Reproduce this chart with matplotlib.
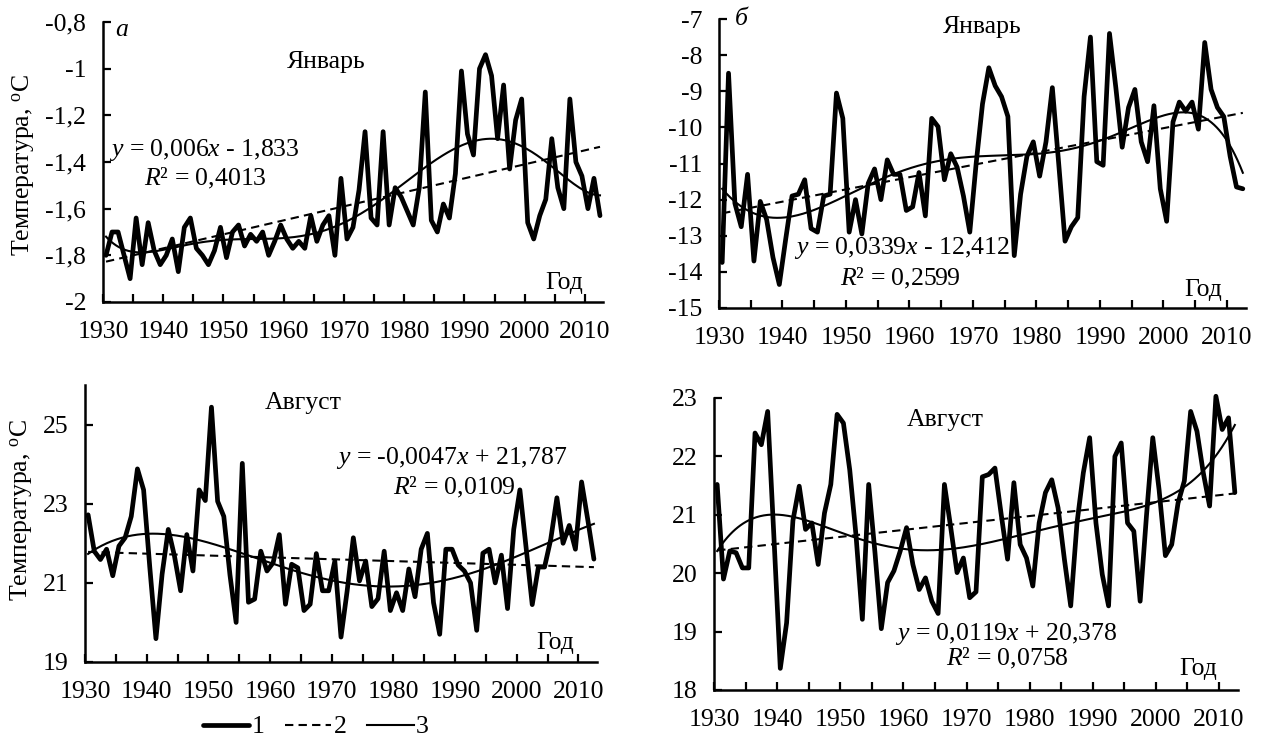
import numpy as np
import matplotlib
matplotlib.use('Agg')
import matplotlib.pyplot as plt

plt.rcParams['font.family'] = ['Liberation Serif', 'DejaVu Serif']
plt.rcParams['mathtext.fontset'] = 'custom'
plt.rcParams['mathtext.rm'] = 'Liberation Serif'
plt.rcParams['mathtext.it'] = 'Liberation Serif:italic'

W, H = 1271, 737
FS = 18.5

years = np.arange(1930, 2013)

# Январь, станция а
jan_a = [-1.80, -1.70, -1.70, -1.80, -1.90, -1.64, -1.84, -1.66, -1.78, -1.84,
         -1.80, -1.73, -1.87, -1.68, -1.64, -1.77, -1.80, -1.84, -1.78, -1.68,
         -1.81, -1.70, -1.67, -1.76, -1.71, -1.74, -1.70, -1.80, -1.74, -1.67,
         -1.73, -1.77, -1.74, -1.77, -1.63, -1.74, -1.67, -1.63, -1.80, -1.47,
         -1.73, -1.68, -1.52, -1.27, -1.64, -1.67, -1.27, -1.67, -1.51, -1.55,
         -1.61, -1.67, -1.51, -1.10, -1.65, -1.70, -1.58, -1.64, -1.45, -1.01,
         -1.28, -1.37, -1.00, -0.94, -1.03, -1.30, -1.07, -1.43, -1.22, -1.13,
         -1.66, -1.73, -1.63, -1.56, -1.30, -1.51, -1.60, -1.13, -1.40, -1.46,
         -1.60, -1.47, -1.63]

# Январь, станция б
jan_b = [-13.74, -8.50, -12.10, -12.75, -11.30, -13.70, -12.05, -12.55, -13.60, -14.35,
         -13.10, -11.90, -11.85, -11.45, -12.80, -12.90, -11.90, -11.85, -9.05, -9.75,
         -12.90, -12.00, -12.95, -11.55, -11.15, -12.00, -10.90, -11.30, -11.30, -12.30,
         -12.20, -11.25, -12.45, -9.75, -9.98, -11.45, -10.73, -11.10, -11.90, -12.90,
         -11.00, -9.35, -8.35, -8.85, -9.15, -9.70, -13.55, -11.85, -10.80, -10.40,
         -11.35, -10.40, -8.90, -11.00, -13.15, -12.75, -12.50, -9.15, -7.50, -10.95,
         -11.05, -7.40, -8.90, -10.55, -9.45, -8.95, -10.40, -10.95, -9.40, -11.70,
         -12.60, -9.85, -9.30, -9.55, -9.30, -10.05, -7.65, -8.95, -9.45, -9.70,
         -10.80, -11.65, -11.70]

# Август, станция а
aug_a = [22.72, 21.80, 21.59, 21.85, 21.18, 21.93, 22.14, 22.68, 23.88, 23.35,
         21.40, 19.59, 21.22, 22.35, 21.68, 20.80, 22.22, 21.30, 23.35, 23.08,
         25.44, 23.06, 22.68, 21.20, 20.00, 24.02, 20.51, 20.59, 21.80, 21.30,
         21.51, 22.22, 20.46, 21.47, 21.38, 20.30, 20.46, 21.74, 20.80, 20.80,
         21.55, 19.63, 20.80, 22.14, 21.05, 21.55, 20.40, 20.60, 21.80, 20.30,
         20.75, 20.30, 21.35, 20.65, 21.85, 22.25, 20.50, 19.70, 21.85, 21.85,
         21.45, 21.30, 21.00, 19.80, 21.75, 21.85, 21.00, 21.70, 20.35, 22.35,
         23.35, 21.90, 20.45, 21.40, 21.40, 22.10, 23.15, 22.00, 22.45, 21.85,
         23.55, 22.60, 21.60]

# Август, станция б
aug_b = [21.52, 19.90, 20.38, 20.35, 20.09, 20.09, 22.40, 22.20, 22.77, 20.60,
         18.37, 19.15, 20.90, 21.49, 20.75, 20.86, 20.15, 21.03, 21.52, 22.72,
         22.57, 21.77, 20.64, 19.21, 21.52, 20.35, 19.05, 19.84, 20.04, 20.38,
         20.78, 20.15, 19.72, 19.92, 19.52, 19.31, 21.52, 20.78, 20.01, 20.26,
         19.58, 19.68, 21.65, 21.69, 21.80, 21.00, 20.24, 21.55, 20.49, 20.26,
         19.78, 20.86, 21.38, 21.60, 21.12, 20.24, 19.44, 20.86, 21.72, 22.32,
         20.86, 19.98, 19.44, 22.00, 22.23, 20.86, 20.72, 19.52, 20.98, 22.32,
         21.43, 20.30, 20.49, 21.20, 21.58, 22.77, 22.43, 21.72, 21.15, 23.03,
         22.46, 22.66, 21.38]

# коэффициенты линейных трендов (как подписаны на графиках)
trend_jan_a = (0.006, -1.833)
trend_jan_b = (0.0339, -12.412)
trend_aug_a = (-0.0047, 21.787)
trend_aug_b = (0.0119, 20.378)


def px_rect(l, t, r, b):
    return [l / W, 1 - b / H, (r - l) / W, (b - t) / H]


def fmt(v):
    s = ('%.1f' % v).rstrip('0').rstrip('.')
    return s.replace('.', ',')


def draw_panel(ax, data, trend, ylim, yticks, deg=6):
    n = len(data)
    pos = np.arange(n) + 0.5
    idx = np.arange(1, n + 1)
    y = np.array(data)

    l1, = ax.plot(pos, y, color='black', lw=3.4, solid_joinstyle='round',
                  solid_capstyle='round', clip_on=False, zorder=3)
    # линейный тренд
    l2, = ax.plot(pos, trend[0] * idx + trend[1], color='black', lw=1.5,
                  dashes=(4, 2.5), zorder=4)
    # полиномиальный тренд
    p = np.polynomial.Polynomial.fit(idx, y, deg)
    xi = np.linspace(1, n, 400)
    l3, = ax.plot(xi - 0.5, p(xi), color='black', lw=1.5, zorder=4)

    ax.set_xlim(0, n)
    ax.set_ylim(*ylim)
    ticks = np.arange(0, 81, 5)
    ax.set_xticks(ticks)
    ax.set_xticklabels([str(years[0] + k) if k % 10 == 0 else '' for k in ticks])
    ax.set_yticks(yticks)
    ax.set_yticklabels([fmt(v) for v in yticks])

    for s in ['top', 'right']:
        ax.spines[s].set_visible(False)
    for s in ['left', 'bottom']:
        ax.spines[s].set_linewidth(1.8)
    ax.tick_params(direction='in', length=6, width=1.6, labelsize=FS)
    ax.tick_params(axis='x', pad=14)
    ax.tick_params(axis='y', pad=12)
    return l1, l2, l3


fig = plt.figure(figsize=(W / 100, H / 100), dpi=100)

ax_a = fig.add_axes(px_rect(103, 22, 603, 302))
ax_b = fig.add_axes(px_rect(719, 19, 1246, 308))
ax_c = fig.add_axes(px_rect(85, 385, 597, 662))
ax_d = fig.add_axes(px_rect(714, 398, 1238, 690))

draw_panel(ax_a, jan_a, trend_jan_a, (-2, -0.8), np.round(np.arange(-2, -0.79, 0.2), 1))
draw_panel(ax_b, jan_b, trend_jan_b, (-15, -7), np.arange(-15, -6, 1))
handles = draw_panel(ax_c, aug_a, trend_aug_a, (19, 26), [19, 21, 23, 25], deg=4)
draw_panel(ax_d, aug_b, trend_aug_b, (18, 23), np.arange(18, 24, 1))


def ftext(x, y, s, **kw):
    fig.text(x / W, 1 - y / H, s, ha='center', va='center', fontsize=FS, **kw)


ylab = 'Температура, $^{\\rm o}$С'
ftext(24, 165, ylab, rotation=90)
ftext(22, 510, ylab, rotation=90)

ftext(122, 30, 'а', fontstyle='italic')
ftext(741, 19, 'б', fontstyle='italic')

ftext(326, 62, 'Январь')
ftext(982, 27, 'Январь')
ftext(303, 403, 'Август')
ftext(945, 420, 'Август')

ftext(564, 283, 'Год')
ftext(1203, 290, 'Год')
ftext(555, 643, 'Год')
ftext(1198, 669, 'Год')

ftext(204, 150, '$\\it{y}$ = 0,006$\\it{x}$ - 1,833')
ftext(205, 178, '$\\it{R}$² = 0,4013')
ftext(902, 248, '$\\it{y}$ = 0,0339$\\it{x}$ - 12,412')
ftext(900, 278, '$\\it{R}$² = 0,2599')
ftext(452, 458, '$\\it{y}$ = -0,0047$\\it{x}$ + 21,787')
ftext(454, 487, '$\\it{R}$² = 0,0109')
ftext(1006, 634, '$\\it{y}$ = 0,0119$\\it{x}$ + 20,378')
ftext(1007, 658, '$\\it{R}$² = 0,0758')

fig.legend(handles, ['1', '2', '3'], loc='center', bbox_to_anchor=(316 / W, 1 - 727 / H),
           ncol=3, frameon=False, fontsize=FS, handlelength=1.8, handletextpad=0.1,
           columnspacing=0.8, borderpad=0, borderaxespad=0)

fig.savefig('out.png', dpi=100)
